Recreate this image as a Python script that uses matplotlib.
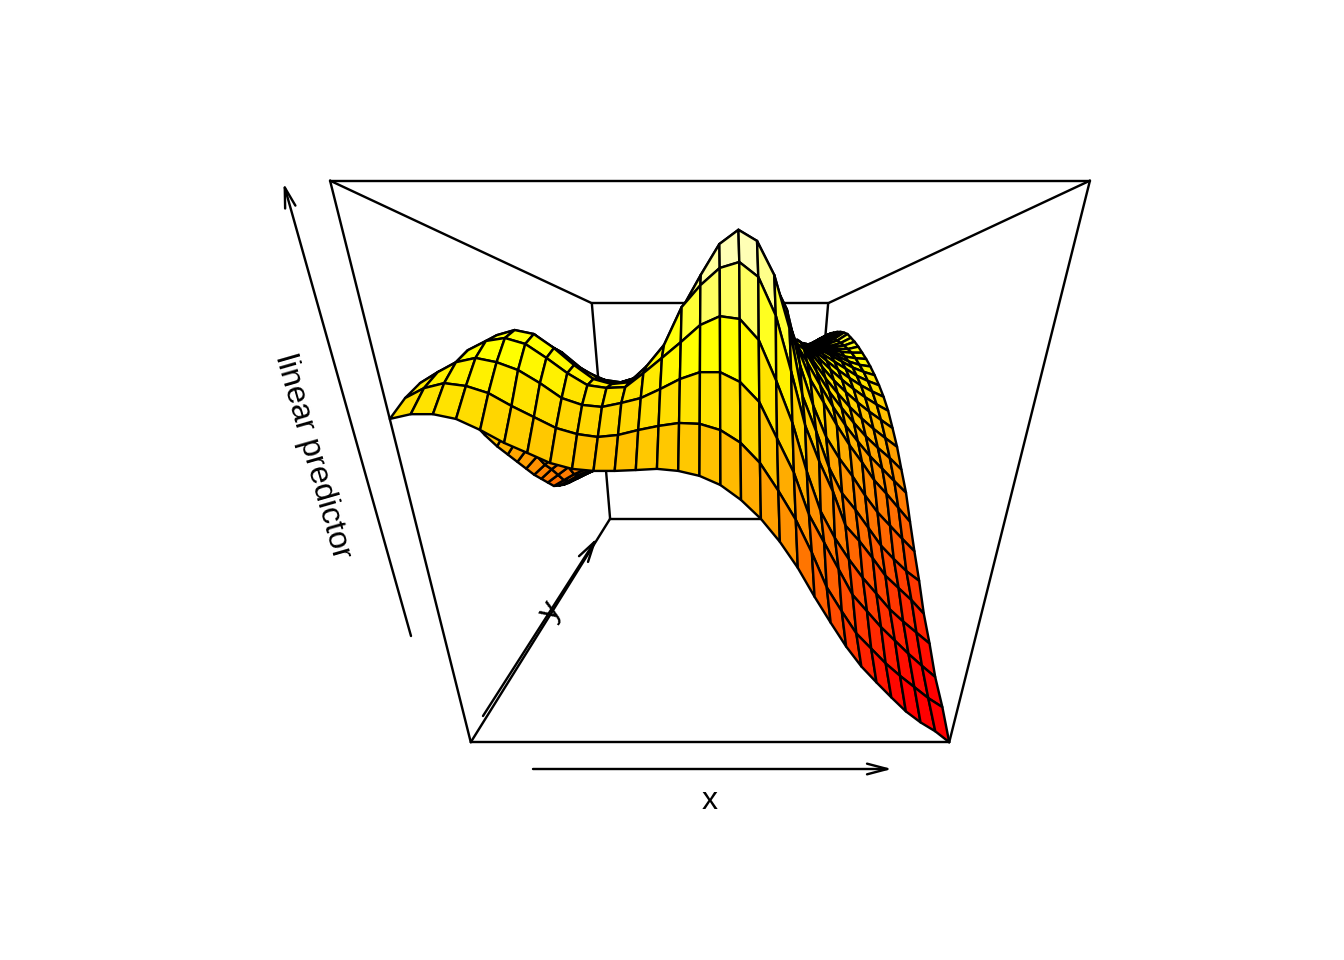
import colorsys
import numpy as np
import matplotlib
matplotlib.use("Agg")
import matplotlib.pyplot as plt
from matplotlib.collections import PolyCollection

# grid of the surface, box runs -1..1 on each axis
x_grid = np.linspace(-1, 1, 30)
y_grid = np.linspace(-1, 1, 30)

# linear predictor, scaled to the box, one row per y (front row first)
z_rows = [
 [.366,.381,.381,.366,.331,.289,.256,.222,.202,.195,.195,.198,.202,.195,.178,.146,.093,.024,-.063,-.166,-.286,-.399,-.508,-.603,-.682,-.758,-.831,-.89,-.939,-1],
 [.423,.455,.471,.462,.439,.397,.36,.323,.302,.292,.299,.316,.33,.34,.337,.316,.272,.2,.097,-.015,-.15,-.3,-.41,-.515,-.59,-.665,-.73,-.79,-.85,-.9],
 [.466,.503,.536,.55,.536,.51,.466,.415,.391,.384,.398,.415,.446,.48,.503,.503,.47,.401,.27,.14,-.03,-.15,-.27,-.39,-.47,-.55,-.62,-.69,-.755,-.817],
 [.45,.52,.577,.608,.618,.598,.55,.497,.454,.444,.447,.497,.55,.604,.661,.69,.681,.611,.47,.314,.12,-.05,-.17,-.27,-.36,-.44,-.52,-.585,-.645,-.705],
 [.39,.49,.57,.632,.65,.636,.586,.524,.472,.453,.46,.52,.597,.729,.802,.858,.877,.829,.7,.5,.29,.14,.007,-.15,-.225,-.31,-.4,-.465,-.53,-.604],
 [.3,.44,.54,.6,.625,.61,.57,.51,.47,.45,.47,.52,.59,.74,.851,.954,1,.964,.85,.66,.4,.25,.09,-.03,-.11,-.2,-.29,-.36,-.425,-.478],
 [.22,.33,.44,.52,.56,.56,.53,.49,.46,.45,.47,.5,.58,.68,.78,.87,.92,.9,.86,.74,.52,.35,.21,.11,.025,-.07,-.155,-.225,-.295,-.362],
 [.15,.25,.35,.42,.46,.46,.44,.41,.38,.38,.4,.43,.51,.6,.7,.78,.83,.82,.84,.76,.6,.456,.353,.25,.155,.07,-.02,-.09,-.165,-.24],
 [.09,.18,.27,.34,.37,.375,.36,.33,.32,.32,.34,.375,.45,.54,.63,.71,.76,.75,.82,.75,.63,.53,.425,.325,.235,.155,.08,.015,-.05,-.113],
 [.03,.11,.19,.25,.285,.29,.28,.26,.25,.26,.285,.32,.39,.47,.56,.63,.68,.69,.79,.74,.64,.59,.485,.39,.31,.235,.165,.105,.05,-.012],
 [-.03,.04,.11,.17,.2,.21,.2,.19,.19,.2,.23,.26,.33,.41,.49,.56,.61,.62,.76,.72,.65,.625,.535,.45,.375,.305,.245,.19,.14,.092],
 [-.09,-.03,.03,.08,.11,.12,.12,.12,.12,.14,.17,.2,.27,.34,.42,.485,.535,.55,.73,.7,.64,.64,.58,.505,.435,.375,.32,.27,.225,.18],
 [-.14,-.08,-.03,.02,.04,.06,.06,.06,.07,.09,.12,.16,.22,.29,.36,.43,.48,.5,.7,.68,.63,.64,.61,.55,.49,.435,.385,.34,.3,.265],
 [-.19,-.14,-.09,-.05,-.025,-.01,0,.01,.02,.04,.08,.11,.17,.24,.3,.37,.42,.44,.67,.66,.62,.635,.63,.585,.535,.485,.44,.4,.365,.335],
 [-.24,-.2,-.16,-.13,-.1,-.09,-.07,-.06,-.04,-.01,.02,.06,.12,.18,.24,.3,.35,.38,.64,.64,.61,.63,.625,.61,.57,.53,.49,.45,.42,.395],
 [-.265,-.23,-.19,-.16,-.14,-.12,-.1,-.085,-.065,-.035,0,.04,.09,.15,.21,.27,.32,.36,.61,.62,.6,.62,.625,.625,.6,.565,.53,.495,.47,.45],
 [-.285,-.25,-.215,-.185,-.16,-.145,-.125,-.105,-.085,-.055,-.02,.02,.075,.135,.19,.25,.3,.34,.58,.6,.59,.61,.62,.635,.62,.59,.56,.53,.51,.5],
 [-.3,-.265,-.23,-.2,-.18,-.16,-.14,-.12,-.1,-.07,-.03,.01,.06,.12,.18,.23,.28,.32,.55,.58,.58,.6,.615,.63,.63,.61,.585,.56,.55,.545],
 [-.305,-.275,-.24,-.215,-.19,-.175,-.15,-.13,-.11,-.075,-.04,0,.055,.11,.17,.22,.27,.31,.53,.56,.56,.59,.61,.63,.64,.625,.605,.59,.585,.585],
 [-.315,-.285,-.25,-.23,-.205,-.19,-.165,-.14,-.12,-.085,-.05,-.01,.045,.1,.16,.21,.26,.3,.5,.54,.55,.58,.6,.63,.64,.635,.62,.61,.61,.625],
 [-.325,-.295,-.265,-.24,-.22,-.2,-.175,-.15,-.13,-.09,-.055,-.015,.035,.09,.145,.2,.25,.29,.47,.52,.53,.57,.595,.63,.64,.64,.63,.625,.635,.66],
 [-.33,-.305,-.28,-.25,-.23,-.21,-.19,-.16,-.14,-.1,-.065,-.025,.03,.08,.135,.19,.24,.28,.45,.5,.52,.56,.585,.625,.64,.64,.635,.635,.655,.69],
 [-.34,-.31,-.285,-.26,-.24,-.22,-.195,-.17,-.145,-.11,-.07,-.03,.02,.075,.13,.18,.23,.275,.42,.48,.5,.55,.575,.62,.635,.645,.645,.65,.675,.72],
 [-.345,-.32,-.295,-.27,-.25,-.23,-.205,-.175,-.15,-.115,-.075,-.035,.015,.07,.12,.175,.225,.27,.4,.46,.49,.53,.565,.61,.63,.65,.655,.66,.69,.735],
 [-.35,-.325,-.3,-.28,-.26,-.24,-.21,-.18,-.155,-.12,-.08,-.04,.01,.06,.115,.17,.22,.26,.38,.44,.47,.52,.555,.6,.625,.645,.655,.67,.7,.745],
 [-.355,-.33,-.31,-.285,-.265,-.245,-.22,-.19,-.16,-.125,-.085,-.045,.005,.055,.11,.16,.21,.255,.36,.42,.45,.5,.545,.59,.62,.64,.655,.675,.71,.75],
 [-.36,-.34,-.315,-.295,-.275,-.255,-.225,-.195,-.17,-.13,-.09,-.05,0,.05,.1,.15,.2,.25,.34,.4,.43,.49,.53,.58,.61,.63,.65,.68,.715,.75],
 [-.37,-.345,-.325,-.305,-.285,-.26,-.235,-.205,-.175,-.135,-.095,-.055,-.01,.04,.09,.14,.195,.245,.32,.38,.41,.47,.52,.57,.6,.62,.645,.68,.715,.75],
 [-.375,-.355,-.33,-.31,-.29,-.27,-.24,-.21,-.18,-.14,-.1,-.06,-.015,.035,.085,.135,.19,.24,.3,.35,.4,.45,.505,.555,.585,.61,.64,.67,.71,.745],
 [-.38,-.36,-.34,-.32,-.3,-.28,-.25,-.22,-.19,-.15,-.11,-.07,-.02,.03,.08,.13,.18,.23,.28,.33,.38,.43,.49,.54,.57,.6,.625,.66,.7,.74],
]
z = np.array(z_rows)

x_label = "x"
y_label = "y"
z_label = "linear predictor"

# camera fitted to the box corners, gives pixels
CX, W0, WY, WZ = 710, .006321, .002915, -.000774
P0, PY, PZ = 2.834, 1.045, -1.3135


def project(x, y, zz):
    w = W0 + WY * y + WZ * zz
    return CX + x / w, (P0 + PY * y + PZ * zz) / w


def heat_colors(n):
    j = n // 4
    i = n - j
    cols = [colorsys.hsv_to_rgb((k / (i - 1)) / 6, 1, 1) for k in range(i)]
    for s in np.linspace(1 - 1 / (2 * j), 1 / (2 * j), j):
        cols.append(colorsys.hsv_to_rgb(1 / 6, s, 1))
    return cols


fig = plt.figure(figsize=(7, 5), dpi=192)
ax = fig.add_axes([0, 0, 1, 1])
ax.set_xlim(0, 1344)
ax.set_ylim(960, 0)
ax.axis("off")
plt.rcParams["font.family"] = ["Liberation Sans", "DejaVu Sans"]

lw = .9


def edge(a, b, zorder):
    p = project(*a)
    q = project(*b)
    ax.plot([p[0], q[0]], [p[1], q[1]], color="black", lw=lw, zorder=zorder,
            solid_capstyle="round")


# back part of the box goes behind the surface
for a, b in [((-1, 1, 1), (1, 1, 1)), ((-1, 1, -1), (1, 1, -1)),
             ((-1, 1, -1), (-1, 1, 1)), ((1, 1, -1), (1, 1, 1)),
             ((-1, -1, -1), (-1, 1, -1)), ((1, -1, -1), (1, 1, -1)),
             ((-1, -1, 1), (-1, 1, 1)), ((1, -1, 1), (1, 1, 1)),
             ((-1, -1, 1), (1, -1, 1))]:
    edge(a, b, 1)

# surface, cells back to front like persp
palette = heat_colors(50)
xx, yy = np.meshgrid(x_grid, y_grid)
sx, sy = project(xx, yy, z)
polys, cols = [], []
for j in range(z.shape[0] - 2, -1, -1):
    for i in range(z.shape[1] - 1):
        polys.append([(sx[j, i], sy[j, i]), (sx[j, i + 1], sy[j, i + 1]),
                      (sx[j + 1, i + 1], sy[j + 1, i + 1]), (sx[j + 1, i], sy[j + 1, i])])
        m = (z[j, i] + z[j, i + 1] + z[j + 1, i] + z[j + 1, i + 1]) / 4
        k = int((m + 1) * 27 - 5)
        cols.append(palette[min(max(k, 0), 49)])
ax.add_collection(PolyCollection(polys, facecolors=cols, edgecolors="black",
                                 linewidths=lw, zorder=2))

# front edges stay on top
for a, b in [((-1, -1, -1), (1, -1, -1)), ((-1, -1, -1), (-1, -1, 1)),
             ((1, -1, -1), (1, -1, 1))]:
    edge(a, b, 3)

# axis arrows
arrow = dict(arrowstyle="->,head_length=.38,head_width=.1", color="black", lw=lw,
             shrinkA=0, shrinkB=0, mutation_scale=20)
ax.annotate("", xy=(892, 769), xytext=(533, 769), arrowprops=arrow, zorder=4)
ax.annotate("", xy=(597, 538), xytext=(483, 716), arrowprops=arrow, zorder=4)
ax.annotate("", xy=(283.5, 183), xytext=(411, 636), arrowprops=arrow, zorder=4)

ax.text(710, 801, x_label, fontsize=12, ha="center", va="center")
ax.text(551, 611, y_label, fontsize=12, ha="center", va="center", rotation=57)
ax.text(313, 457, z_label, fontsize=12, ha="center", va="center", rotation=-74)

fig.savefig("out.png", dpi=192)
